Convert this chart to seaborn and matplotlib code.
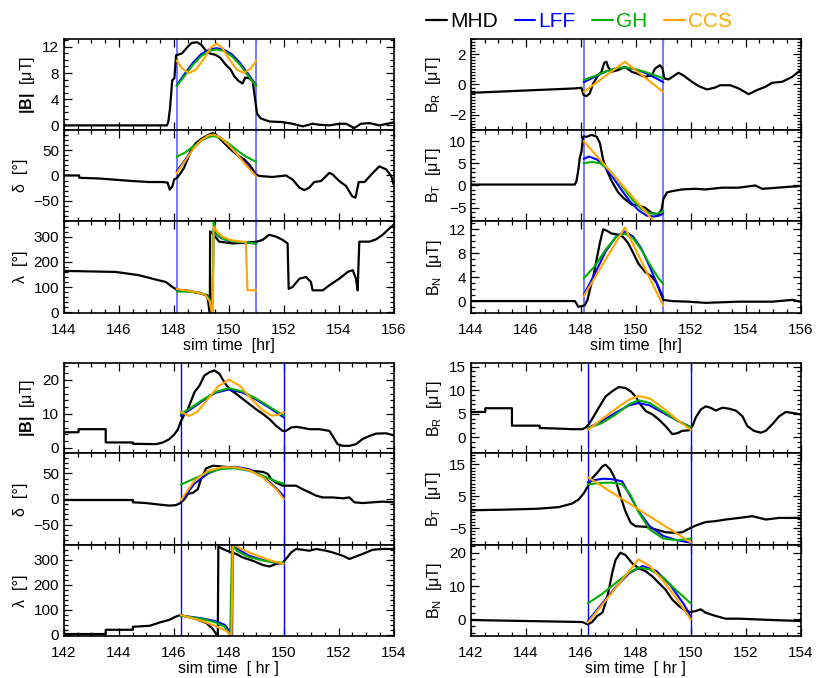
import seaborn as sns
import matplotlib.pyplot as plt
from matplotlib.ticker import AutoMinorLocator

# ---------------- upper event (144-156 hr), boundaries 148.1 / 151.0 ----------------
u_bounds = [148.1, 151.0]

# |B|
u_B_t = [144.0, 147.75, 147.8, 147.86, 147.94, 148.02, 148.08, 148.3, 148.5, 148.65, 148.85, 149.0,
         149.15, 149.3, 149.5, 149.7, 149.88, 150.07, 150.2, 150.35, 150.5, 150.6, 150.75, 150.87,
         150.95, 151.03, 151.15, 151.47, 151.96, 152.32, 152.69, 153.05, 153.3, 153.66, 154.02,
         154.27, 154.57, 154.81, 155.12, 155.48, 156.0]
u_B = [0.0, 0.0, 0.6, 2.6, 6.9, 7.2, 10.7, 11.0, 12.0, 12.6, 12.7, 12.3, 11.5, 11.0, 10.8, 10.3, 9.3,
       8.5, 7.5, 6.8, 6.4, 7.3, 7.2, 6.8, 4.2, 1.8, 1.1, 0.6, 0.5, 0.25, -0.15, 0.25, 0.1, 0.0, 0.25,
       0.25, -0.4, 0.25, 0.35, 0.0, 0.45]
u_B_fit_t = [148.1, 148.4, 148.7, 149.0, 149.3, 149.55, 149.8, 150.1, 150.4, 150.7, 151.0]
u_B_lff = [6.1, 7.9, 9.6, 10.9, 11.6, 11.8, 11.6, 10.9, 9.6, 7.9, 6.1]
u_B_gh = [6.0, 7.6, 9.3, 10.6, 11.4, 11.6, 11.4, 10.6, 9.3, 7.6, 6.0]
u_B_ccs_t = [148.1, 148.3, 148.55, 148.8, 149.1, 149.35, 149.55, 149.75, 150.0, 150.3, 150.55, 150.8, 151.0]
u_B_ccs = [9.9, 8.7, 8.0, 8.5, 10.2, 11.9, 12.5, 11.9, 10.2, 8.5, 8.0, 8.7, 9.9]

# delta
u_d_t = [144.0, 144.55, 144.56, 145.28, 146.49, 147.1, 147.58, 147.77, 147.85, 147.95, 148.01, 148.12,
         148.25, 148.37, 148.5, 148.62, 148.8, 149.04, 149.29, 149.41, 149.53, 149.71, 149.89, 150.14,
         150.38, 150.56, 150.74, 150.87, 150.99, 151.11, 151.59, 152.08, 152.32, 152.57, 152.75,
         152.93, 153.11, 153.36, 153.66, 153.78, 154.02, 154.27, 154.49, 154.61, 154.73, 154.94,
         155.24, 155.48, 155.73, 155.91, 156.0]
u_d = [0, 0, -4.6, -6, -11, -13, -13, -14, -28, -21, -8, -4.6, 5, 15, 32, 51, 64, 74, 81, 84, 81, 71,
       61, 48, 38, 32, 22, 12, 2, -1, -3, 0, -8, -24, -29, -24, -13, -11, 5, 2, -11, -21, -41, -44,
       -13, -13, 5, 18, 12, -1, -18]
u_d_fit_t = [148.1, 148.4, 148.7, 149.0, 149.25, 149.45, 149.7, 150.0, 150.3, 150.6, 151.0]
u_d_lff = [8, 30, 53, 70, 78, 80, 75, 60, 42, 24, 0]
u_d_gh = [37, 45, 57, 69, 76, 78, 74, 63, 50, 38, 27]
u_d_ccs = [5, 28, 52, 70, 79, 81, 75, 60, 42, 22, -2]

# lambda
u_l_t = [144.0, 145.88, 146.73, 147.22, 147.71, 147.95, 148.12, 148.44, 148.92, 149.22, 149.31, 149.32,
         149.41, 149.65, 150.14, 150.62, 150.99, 151.23, 151.47, 151.72, 151.96, 152.14, 152.18,
         152.32, 152.57, 152.81, 152.99, 153.05, 153.42, 153.66, 154.02, 154.33, 154.51, 154.63,
         154.69, 154.75, 155.12, 155.36, 155.6, 155.85, 156.0]
u_l = [164, 160, 147, 133, 120, 100, 89, 87, 76, 67, -10, 320, 313, 280, 273, 276, 279, 287, 307, 300,
       287, 273, 93, 100, 133, 140, 120, 87, 87, 107, 133, 160, 167, 133, 87, 280, 280, 289, 307, 333, 347]
u_l_lff_t = [148.1, 148.5, 148.9, 149.15, 149.3, 149.38, 149.4, 149.45, 149.55, 149.7, 150.0, 150.5, 151.0]
u_l_lff = [88, 84, 78, 68, 45, 0, -5, 330, 310, 295, 283, 277, 273]
u_l_gh_t = [148.1, 148.5, 148.9, 149.15, 149.3, 149.38, 149.4, 149.45, 149.5, 149.6, 149.8, 150.2, 150.6, 151.0]
u_l_gh = [82, 82, 78, 70, 50, 5, -5, 365, 330, 305, 290, 280, 277, 272]
u_l_ccs_t = [148.1, 148.5, 148.9, 149.15, 149.3, 149.38, 149.42, 149.45, 149.6, 149.8, 150.1, 150.5,
             150.62, 150.68, 151.0]
u_l_ccs = [92, 86, 78, 68, 45, 0, -5, 340, 315, 298, 285, 280, 279, 87, 87]

# B_R
u_R_t = [144.0, 147.78, 148.02, 148.1, 148.2, 148.32, 148.45, 148.63, 148.75, 148.85, 148.93, 148.99,
         149.12, 149.36, 149.6, 149.85, 150.09, 150.33, 150.58, 150.7, 150.88, 150.97, 151.04, 151.19,
         151.37, 151.55, 151.73, 152.04, 152.28, 152.59, 152.89, 153.07, 153.44, 153.74, 154.11,
         154.41, 154.72, 154.96, 155.33, 155.69, 156.0]
u_R = [-0.55, -0.26, -0.22, -0.7, -0.77, -0.6, 0.07, 0.6, 0.84, 1.43, 1.5, 1.16, 0.84, 0.95, 1.16, 0.84,
       0.68, 0.5, 0.6, 1.05, 1.27, 1.05, 0.4, 0.33, 0.55, 0.77, 0.6, 0.18, -0.1, -0.33, -0.2, -0.05,
       -0.05, -0.26, -0.64, -0.37, -0.15, 0.11, 0.18, 0.5, 0.95]
u_R_fit_t = [148.1, 148.5, 148.9, 149.3, 149.6, 149.9, 150.3, 150.7, 151.0]
u_R_lff = [0.15, 0.5, 0.85, 1.07, 1.12, 1.05, 0.8, 0.45, 0.15]
u_R_gh = [0.3, 0.55, 0.85, 1.08, 1.12, 1.05, 0.85, 0.6, 0.4]
u_R_ccs_t = [148.1, 148.85, 149.6, 150.3, 151.0]
u_R_ccs = [-0.5, 0.5, 1.5, 0.5, -0.5]

# B_T
u_T_t = [144.0, 147.78, 147.84, 147.9, 147.96, 148.02, 148.08, 148.24, 148.38, 148.57, 148.69, 148.81,
         148.93, 149.12, 149.36, 149.6, 149.85, 150.09, 150.33, 150.58, 150.82, 150.94, 151.0, 151.13,
         151.31, 151.67, 152.16, 152.53, 153.14, 153.74, 154.35, 154.6, 154.96, 155.57, 156.0]
u_T = [0.2, 0.2, 1.0, 3.2, 6.2, 7.6, 11.0, 11.0, 11.4, 11.0, 9.6, 5.8, 3.6, 1.0, -1.6, -3.1, -4.3,
       -4.5, -5.0, -6.2, -6.5, -5.4, -3.1, -1.6, -1.3, -0.9, -0.75, -0.9, -0.5, -0.5, 0.0, -0.75,
       -0.6, -0.3, -0.15]
u_T_lff_t = [148.1, 148.3, 148.6, 148.9, 149.2, 149.5, 149.8, 150.1, 150.4, 150.65, 150.85, 151.0]
u_T_lff = [6.0, 6.5, 5.8, 4.0, 1.5, -1.2, -3.7, -5.6, -6.8, -7.0, -6.8, -6.3]
u_T_gh_t = [148.1, 148.4, 148.7, 149.0, 149.3, 149.6, 149.9, 150.2, 150.5, 150.75, 151.0]
u_T_gh = [5.0, 5.3, 5.0, 3.7, 1.5, -1.0, -3.4, -5.3, -6.3, -6.4, -5.8]
u_T_ccs_t = [148.1, 150.65, 151.0]
u_T_ccs = [10.0, -8.0, -10.5]

# B_N
u_N_t = [144.0, 147.78, 147.84, 147.9, 148.02, 148.14, 148.24, 148.32, 148.45, 148.57, 148.69, 148.81,
         148.93, 149.12, 149.36, 149.54, 149.72, 149.91, 150.09, 150.33, 150.58, 150.76, 150.88, 151.0,
         151.31, 151.92, 152.53, 153.74, 154.96, 155.69, 156.0]
u_N = [0, 0, -0.4, -0.95, -0.85, -0.7, 0.2, 1.8, 4.1, 6.9, 9.7, 12.0, 11.8, 11.3, 11.1, 10.7, 9.7, 8.0,
       6.3, 4.9, 4.1, 3.0, 1.6, 0.2, 0, -0.1, -0.3, -0.1, -0.1, 0.2, -0.1]
u_N_fit_t = [148.1, 148.5, 148.9, 149.3, 149.6, 149.9, 150.2, 150.5, 150.8, 151.0]
u_N_lff = [1.0, 4.5, 8.3, 10.9, 11.6, 10.8, 8.8, 5.8, 2.6, 0.6]
u_N_gh = [3.8, 5.8, 8.6, 10.8, 11.3, 10.5, 8.6, 6.2, 4.0, 2.8]
u_N_ccs_t = [148.1, 149.6, 151.0]
u_N_ccs = [0.8, 12.3, -0.8]

# ---------------- lower event (142-154 hr), boundaries 146.25 / 150.0 ----------------
l_bounds = [146.25, 150.0]

l_B_t = [142.0, 142.53, 142.53, 143.52, 143.52, 144.51, 144.51, 145.36, 145.6, 145.84, 146.02, 146.15,
         146.24, 146.39, 146.51, 146.63, 146.75, 146.93, 147.11, 147.3, 147.48, 147.66, 147.84, 148.02,
         148.27, 148.51, 148.75, 148.99, 149.24, 149.48, 149.72, 149.96, 150.08, 150.27, 150.45,
         150.69, 150.93, 151.3, 151.66, 151.78, 151.96, 152.15, 152.39, 152.63, 152.87, 153.12,
         153.36, 153.72, 154.0]
l_B = [4.6, 4.6, 5.5, 5.5, 1.6, 1.6, 1.2, 1.1, 1.6, 2.6, 4.0, 5.5, 7.5, 10.0, 11.4, 13.9, 16.4, 18.3,
       21.3, 22.3, 22.8, 21.8, 19.3, 17.3, 15.9, 14.4, 12.9, 11.4, 10.0, 8.5, 6.5, 5.0, 5.0, 6.0, 6.2,
       5.9, 5.5, 5.5, 5.0, 3.5, 1.1, 0.6, 0.6, 1.1, 2.6, 3.5, 4.2, 4.3, 3.7]
l_B_fit_t = [146.25, 146.6, 147.0, 147.5, 148.0, 148.5, 149.0, 149.5, 150.0]
l_B_lff = [9.5, 11.3, 13.6, 16.2, 17.2, 16.3, 14.2, 11.7, 9.0]
l_B_gh = [10.0, 11.7, 13.9, 16.4, 17.6, 16.6, 14.5, 12.0, 9.5]
l_B_ccs_t = [146.25, 146.55, 146.85, 147.2, 147.6, 148.0, 148.4, 148.8, 149.2, 149.55, 149.8, 150.0]
l_B_ccs = [10.6, 9.4, 10.6, 14.0, 18.0, 20.1, 18.3, 14.6, 11.3, 9.5, 9.7, 10.6]

l_d_t = [142.0, 144.51, 144.51, 144.99, 145.48, 145.84, 146.08, 146.24, 146.39, 146.51, 146.69, 146.87,
         146.99, 147.18, 147.42, 147.66, 148.02, 148.39, 148.87, 149.24, 149.42, 149.54, 149.72,
         149.96, 150.21, 150.45, 150.69, 150.93, 151.18, 151.42, 151.78, 152.15, 152.39, 152.57,
         152.87, 153.24, 153.6, 154.0]
l_d = [-2, -2, -6.5, -8, -11, -13, -12, -8, 0, 10, 12, 19, 39, 60, 65, 64, 62, 60, 55, 53, 49, 39, 32,
       26, 26, 26, 19, 13, 6.5, 3, 3, 1.3, 3, -6.5, -8, -6.5, -5.2, -6.5]
l_d_fit_t = [146.25, 146.75, 147.25, 147.75, 148.25, 148.75, 149.25, 149.75, 150.0]
l_d_lff = [-5, 30, 50, 61, 63, 58, 44, 20, 5]
l_d_gh = [28, 40, 52, 59, 60, 55, 45, 34, 30]
l_d_ccs = [-3, 36, 55, 62, 62, 56, 42, 18, 0]

l_l_t = [142.0, 143.52, 143.52, 144.51, 144.51, 145.12, 145.48, 145.84, 146.08, 146.24, 146.45, 146.81,
         147.18, 147.42, 147.54, 147.6, 147.62, 147.78, 148.02, 148.27, 148.51, 148.87, 149.24, 149.48,
         149.72, 149.96, 150.08, 150.27, 150.45, 150.69, 150.93, 151.18, 151.54, 151.78, 152.15,
         152.39, 152.63, 152.87, 153.24, 153.6, 154.0]
l_l = [3, 3, 20, 20, 32, 36, 49, 60, 73, 79, 73, 63, 47, 23, 3, -4, 353, 343, 332, 323, 309, 296, 279,
       273, 283, 287, 303, 329, 343, 340, 336, 343, 336, 329, 316, 303, 313, 323, 340, 343, 343]
l_l_lff_t = [146.25, 147.0, 147.5, 147.85, 148.05, 148.12, 148.15, 148.3, 148.7, 149.2, 149.6, 150.0]
l_l_lff = [77, 66, 55, 40, 10, -3, 362, 345, 318, 300, 290, 285]
l_l_gh_t = [146.25, 147.0, 147.5, 147.85, 148.0, 148.05, 148.12, 148.3, 148.7, 149.2, 149.6, 150.0]
l_l_gh = [77, 64, 50, 32, 5, -3, 362, 335, 312, 298, 290, 288]
l_l_ccs_t = [146.25, 147.0, 147.5, 147.9, 148.1, 148.15, 148.5, 149.0, 149.5, 150.0]
l_l_ccs = [79, 56, 36, 16, -3, 362, 340, 318, 298, 283]

l_R_t = [142.0, 142.52, 142.52, 143.49, 143.49, 144.5, 144.5, 145.07, 145.68, 146.05, 146.17, 146.29,
         146.47, 146.65, 146.9, 147.14, 147.38, 147.62, 147.81, 147.99, 148.17, 148.36, 148.6, 148.84,
         149.08, 149.33, 149.51, 149.69, 149.93, 150.06, 150.18, 150.36, 150.54, 150.72, 150.91,
         151.15, 151.39, 151.64, 151.88, 152.06, 152.3, 152.55, 152.73, 152.97, 153.22, 153.46,
         153.7, 154.0]
l_R = [5.4, 5.4, 6.2, 6.2, 2.5, 2.5, 2.0, 1.9, 1.75, 1.75, 2.1, 2.8, 4.5, 6.3, 8.7, 9.8, 10.7, 10.5, 9.8,
       8.7, 7.0, 5.6, 4.9, 3.8, 2.4, 0.7, 0.9, 1.4, 1.5, 2.4, 4.2, 5.9, 6.6, 6.3, 5.7, 6.3, 6.1, 5.7,
       4.5, 2.4, 1.4, 1.0, 1.4, 2.8, 4.5, 5.4, 5.2, 4.9]
l_R_fit_t = [146.25, 146.75, 147.25, 147.75, 148.1, 148.5, 149.0, 149.5, 150.0]
l_R_lff = [2.0, 3.4, 5.2, 6.8, 7.3, 6.8, 5.2, 3.6, 2.2]
l_R_gh = [2.0, 3.0, 4.8, 7.0, 7.9, 7.3, 5.5, 3.6, 2.1]
l_R_ccs = [1.6, 3.8, 6.0, 8.0, 8.8, 8.3, 6.2, 3.8, 1.6]

l_T_t = [142.0, 143.25, 144.47, 145.2, 145.68, 145.92, 146.11, 146.25, 146.41, 146.59, 146.78, 146.9,
         147.08, 147.26, 147.44, 147.62, 147.81, 147.99, 148.36, 148.72, 149.08, 149.45, 149.69,
         149.93, 150.18, 150.54, 150.91, 151.27, 151.76, 152.24, 152.73, 153.21, 154.0]
l_T = [0.6, 0.8, 1.1, 1.6, 2.7, 4.0, 6.0, 8.1, 10.7, 12.3, 14.4, 14.9, 13.3, 10.2, 5.0, 0.3, -3.3, -4.4,
       -4.6, -5.4, -6.3, -6.5, -6.3, -5.2, -4.2, -3.1, -2.8, -2.3, -1.8, -1.25, -2.3, -1.8, -1.8]
l_T_fit_t = [146.25, 146.5, 146.8, 147.1, 147.5, 147.8, 148.1, 148.5, 149.0, 149.5, 150.0]
l_T_lff = [9.4, 10.1, 10.5, 10.4, 9.7, 5.0, 0.3, -4.4, -7.5, -8.8, -9.6]
l_T_gh = [8.7, 9.0, 9.2, 9.3, 8.8, 5.5, 0.0, -5.4, -8.3, -8.8, -8.3]
l_T_ccs_t = [146.25, 150.0]
l_T_ccs = [11.0, -9.5]

l_N_t = [142.0, 146.05, 146.25, 146.41, 146.59, 146.78, 146.9, 147.02, 147.14, 147.26, 147.44, 147.62,
         147.87, 148.11, 148.36, 148.6, 148.84, 149.08, 149.33, 149.57, 149.81, 149.99, 150.18, 150.36,
         150.54, 150.91, 151.27, 151.76, 152.36, 152.97, 154.0]
l_N = [-0.2, -0.8, -1.5, -0.8, 1.0, 2.0, 5.0, 8.9, 13.9, 17.8, 20.0, 19.3, 16.8, 15.3, 14.4, 12.9, 10.9,
       8.9, 5.9, 4.0, 2.5, 2.2, 2.5, 3.0, 2.0, 1.0, 0.2, 0.2, 0.0, -0.2, -0.5]
l_N_lff_t = [146.25, 146.75, 147.25, 147.75, 148.25, 148.75, 149.25, 149.75, 150.0]
l_N_lff = [-0.5, 4.5, 9.5, 13.8, 16.0, 14.5, 10.3, 4.5, 0.8]
l_N_gh_t = [146.25, 146.75, 147.25, 147.75, 148.1, 148.5, 149.0, 149.5, 150.0]
l_N_gh = [4.8, 7.5, 10.8, 14.0, 15.5, 15.0, 12.5, 8.5, 4.8]
l_N_ccs_t = [146.25, 148.1, 148.5, 149.0, 149.5, 150.0]
l_N_ccs = [-1.0, 18.0, 16.0, 11.5, 6.0, 0.0]

series_names = ["MHD", "LFF", "GH", "CCS"]
series_colors = ["black", "#0000ff", "#00b000", "#ffa500"]

sns.set_style("ticks", {"axes.edgecolor": "black", "xtick.color": "black", "ytick.color": "black",
                        "text.color": "black", "axes.labelcolor": "black"})
plt.rcParams["font.family"] = ["Liberation Sans", "DejaVu Sans"]
plt.rcParams["mathtext.fontset"] = "custom"
plt.rcParams["mathtext.rm"] = "Liberation Sans"
plt.rcParams["mathtext.it"] = "Liberation Sans"
plt.rcParams["mathtext.bf"] = "Liberation Sans:bold"

fig = plt.figure(figsize=(8.17, 6.78), dpi=100)


def line(ax, t, v, color, lw):
    sns.lineplot(x=t, y=v, ax=ax, color=color, lw=lw, estimator=None, sort=False, legend=False)
    return ax.lines[-1]


def panel(rect, xlim, bounds, vcolor, vlw, mhd, fits, ylim, yticks, nminor, ylabel, bottom, xlabel=""):
    ax = fig.add_axes(rect)
    for b in bounds:
        ax.axvline(b, color=vcolor, lw=vlw, zorder=1)
    hs = [line(ax, mhd[0], mhd[1], "black", 1.6)]
    for (t, v), c in zip(fits, series_colors[1:]):
        hs.append(line(ax, t, v, c, 1.5))
    ax.set_xlim(*xlim)
    ax.set_ylim(*ylim)
    ax.set_xticks(range(int(xlim[0]), int(xlim[1]) + 1, 2))
    ax.set_yticks(yticks)
    ax.xaxis.set_minor_locator(AutoMinorLocator(4))
    ax.yaxis.set_minor_locator(AutoMinorLocator(nminor))
    ax.tick_params(which="both", direction="in", top=True, right=True, labelsize=11, width=0.9)
    ax.tick_params(which="major", length=6)
    ax.tick_params(which="minor", length=3)
    ax.tick_params(axis="x", pad=7)
    for s in ax.spines.values():
        s.set_linewidth(1.2)
    ax.set_ylabel(ylabel, fontsize=11.5, labelpad=4)
    ax.set_xlabel("")
    if bottom:
        ax.set_xlabel(xlabel, fontsize=11.5, labelpad=1)
    else:
        ax.tick_params(labelbottom=False)
    return hs


L1, L2, W = 0.0783, 0.5765, 0.4035
u_rows = [(0.8083, 0.1342), (0.6741, 0.1342), (0.5383, 0.1358)]
l_rows = [(0.3319, 0.1327), (0.1962, 0.1357), (0.0619, 0.1343)]
u_x, l_x = (144, 156), (142, 154)
light = "#7878ff"

hs = panel([L1, u_rows[0][0], W, u_rows[0][1]], u_x, u_bounds, light, 1.4, (u_B_t, u_B),
           [(u_B_fit_t, u_B_lff), (u_B_fit_t, u_B_gh), (u_B_ccs_t, u_B_ccs)],
           (-0.7, 13.2), [0, 4, 8, 12], 4, r"$\mathbf{|B|}$  [μT]", False)
panel([L1, u_rows[1][0], W, u_rows[1][1]], u_x, u_bounds, light, 1.4, (u_d_t, u_d),
      [(u_d_fit_t, u_d_lff), (u_d_fit_t, u_d_gh), (u_d_fit_t, u_d_ccs)],
      (-90, 90), [-50, 0, 50], 5, "δ  [°]", False)
panel([L1, u_rows[2][0], W, u_rows[2][1]], u_x, u_bounds, light, 1.4, (u_l_t, u_l),
      [(u_l_lff_t, u_l_lff), (u_l_gh_t, u_l_gh), (u_l_ccs_t, u_l_ccs)],
      (-3, 362), [0, 100, 200, 300], 5, "λ  [°]", True, "sim time  [hr]")

panel([L2, u_rows[0][0], W, u_rows[0][1]], u_x, u_bounds, light, 1.4, (u_R_t, u_R),
      [(u_R_fit_t, u_R_lff), (u_R_fit_t, u_R_gh), (u_R_ccs_t, u_R_ccs)],
      (-3, 3), [-2, 0, 2], 10, r"B$_\mathregular{R}$  [μT]", False)
panel([L2, u_rows[1][0], W, u_rows[1][1]], u_x, u_bounds, light, 1.4, (u_T_t, u_T),
      [(u_T_lff_t, u_T_lff), (u_T_gh_t, u_T_gh), (u_T_ccs_t, u_T_ccs)],
      (-8, 12.5), [-5, 0, 5, 10], 5, r"B$_\mathregular{T}$  [μT]", False)
panel([L2, u_rows[2][0], W, u_rows[2][1]], u_x, u_bounds, light, 1.4, (u_N_t, u_N),
      [(u_N_fit_t, u_N_lff), (u_N_fit_t, u_N_gh), (u_N_ccs_t, u_N_ccs)],
      (-2, 13.4), [0, 4, 8, 12], 4, r"B$_\mathregular{N}$  [μT]", True, "sim time  [hr]")

panel([L1, l_rows[0][0], W, l_rows[0][1]], l_x, l_bounds, "#0000ff", 1.0, (l_B_t, l_B),
      [(l_B_fit_t, l_B_lff), (l_B_fit_t, l_B_gh), (l_B_ccs_t, l_B_ccs)],
      (-1.5, 25), [0, 10, 20], 5, r"$\mathbf{|B|}$  [μT]", False)
panel([L1, l_rows[1][0], W, l_rows[1][1]], l_x, l_bounds, "#0000ff", 1.0, (l_d_t, l_d),
      [(l_d_fit_t, l_d_lff), (l_d_fit_t, l_d_gh), (l_d_fit_t, l_d_ccs)],
      (-90, 90), [-50, 0, 50], 5, "δ  [°]", False)
panel([L1, l_rows[2][0], W, l_rows[2][1]], l_x, l_bounds, "#0000ff", 1.0, (l_l_t, l_l),
      [(l_l_lff_t, l_l_lff), (l_l_gh_t, l_l_gh), (l_l_ccs_t, l_l_ccs)],
      (-5, 359), [0, 100, 200, 300], 5, "λ  [°]", True, "sim time  [ hr ]")

panel([L2, l_rows[0][0], W, l_rows[0][1]], l_x, l_bounds, "#0000ff", 1.0, (l_R_t, l_R),
      [(l_R_fit_t, l_R_lff), (l_R_fit_t, l_R_gh), (l_R_fit_t, l_R_ccs)],
      (-3.3, 15.8), [0, 5, 10, 15], 5, r"B$_\mathregular{R}$  [μT]", False)
panel([L2, l_rows[1][0], W, l_rows[1][1]], l_x, l_bounds, "#0000ff", 1.0, (l_T_t, l_T),
      [(l_T_fit_t, l_T_lff), (l_T_fit_t, l_T_gh), (l_T_ccs_t, l_T_ccs)],
      (-10.3, 18.6), [-5, 5, 15], 10, r"B$_\mathregular{T}$  [μT]", False)
panel([L2, l_rows[2][0], W, l_rows[2][1]], l_x, l_bounds, "#0000ff", 1.0, (l_N_t, l_N),
      [(l_N_lff_t, l_N_lff), (l_N_gh_t, l_N_gh), (l_N_ccs_t, l_N_ccs)],
      (-5, 22.3), [0, 10, 20], 5, r"B$_\mathregular{N}$  [μT]", True, "sim time  [ hr ]")

fig.legend(hs, series_names, loc="center", bbox_to_anchor=(0.709, 0.968), ncol=4, frameon=False,
           fontsize=15, handlelength=1.0, handletextpad=0.15, columnspacing=0.8, labelcolor="linecolor")

fig.savefig("out.png", dpi=100)
